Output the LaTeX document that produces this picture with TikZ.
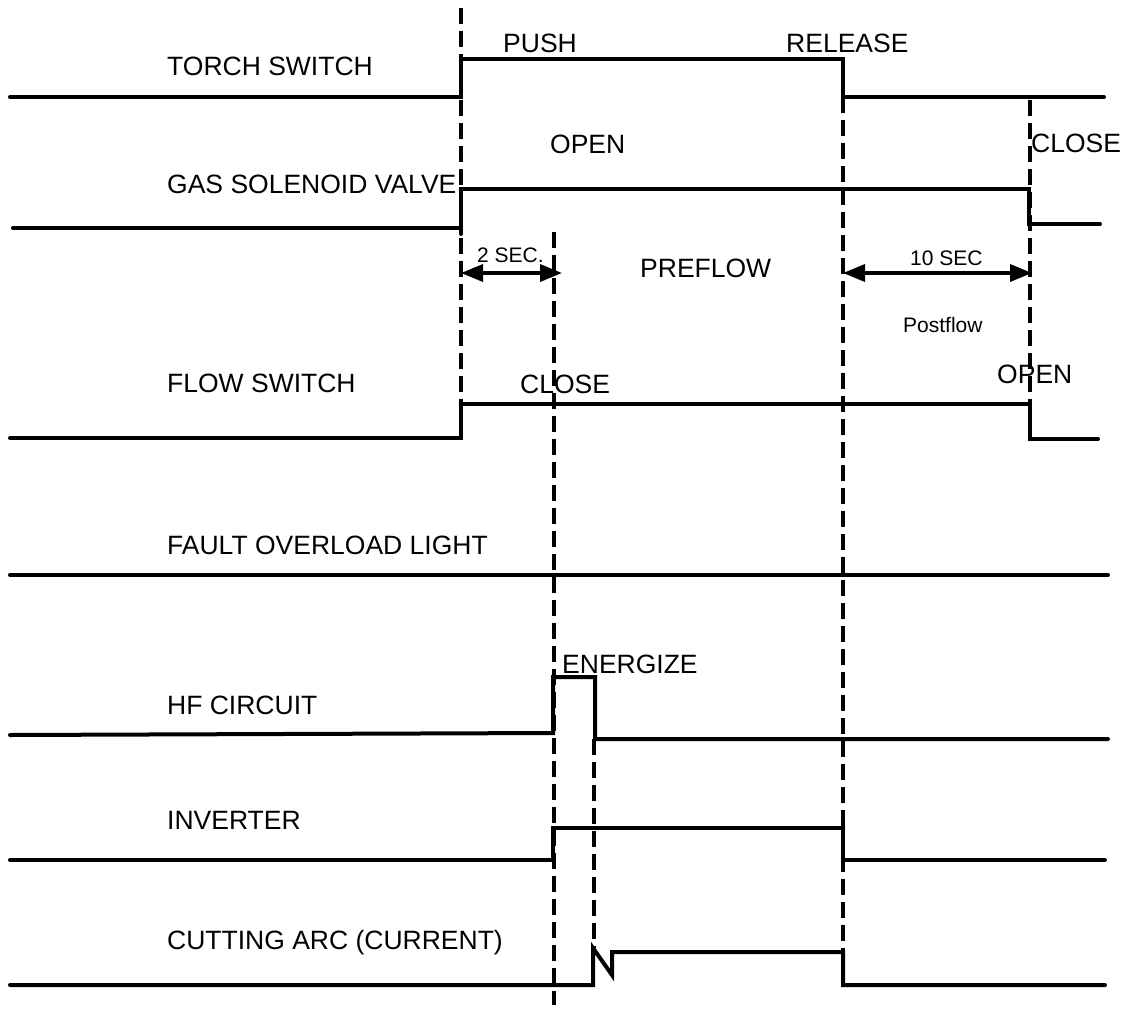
\documentclass[tikz,border=0pt]{standalone}
\usepackage{fontspec}
\setmainfont{Liberation Sans}
\usetikzlibrary{arrows.meta}
\begin{document}
\begin{tikzpicture}[x=1pt,y=-1pt,
  sig/.style={line width=4pt,line join=miter,line cap=round},
  guide/.style={line width=4.2pt,dash pattern=on 16pt off 7pt},
  lbl/.style={anchor=base west,inner sep=0pt,font=\fontsize{26.5}{30}\selectfont},
  small/.style={anchor=base west,inner sep=0pt,font=\fontsize{21}{25}\selectfont},
  dim/.style={line width=3.5pt,{Triangle[length=22pt,width=17pt]}-{Triangle[length=22pt,width=17pt]}}]
\useasboundingbox (0,0) rectangle (1122,1010);
% guide lines
\coordinate (g1t) at (461,8);    \coordinate (g1b) at (461,404);
\coordinate (g2t) at (554,232);  \coordinate (g2b) at (554,1005);
\coordinate (g3t) at (594,739);  \coordinate (g3b) at (594,948);
\coordinate (g4t) at (843,97);   \coordinate (g4b) at (843,985);
\coordinate (g5t) at (1030,100); \coordinate (g5b) at (1030,404);
\draw[guide] (g1t) -- (g1b);
\draw[guide] (g2t) -- (g2b);
\draw[guide] (g3t) -- (g3b);
\draw[guide] (g4t) -- (g4b);
\draw[guide] (g5t) -- (g5b);
% signals
\draw[sig] (10,97) -- (461,97) -- (461,59) -- (843,59) -- (843,97) -- (1104,97);
\draw[sig] (13,228) -- (461,228) -- (461,189) -- (1029,189) -- (1029,224) -- (1100,224);
\draw[sig] (461,234) -- (461,228);
\draw[sig] (10,438) -- (461,438) -- (461,404) -- (1030,404) -- (1030,439) -- (1098,439);
\draw[sig] (10,575) -- (1108,575);
\draw[sig] (10,735) -- (553,733) -- (553,677) -- (595,677) -- (595,739) -- (1108,739);
\draw[sig] (10,860) -- (553,860) -- (553,828) -- (843,828) -- (843,860) -- (1105,860);
\draw[sig] (10,985) -- (593,985) -- (593,948) -- (612,975) -- (612,952) -- (843,952) -- (843,985) -- (1105,985);
% dimension arrows
\coordinate (a1) at (461,273); \coordinate (a2) at (562,273);
\coordinate (b1) at (843,273); \coordinate (b2) at (1032,273);
\draw[dim] (a1) -- (a2);
\draw[dim] (b1) -- (b2);
% labels
\node[lbl] (t1) at (167,75) {TORCH SWITCH};
\node[lbl] (t2) at (167,193) {GAS SOLENOID VALVE};
\node[lbl] (t3) at (167,392) {FLOW SWITCH};
\node[lbl] (t4) at (167,554) {FAULT OVERLOAD LIGHT};
\node[lbl] (t5) at (167,714) {HF CIRCUIT};
\node[lbl] (t6) at (167,829) {INVERTER};
\node[lbl] (t7) at (167,949) {CUTTING ARC (CURRENT)};
\node[lbl] (push) at (503,52) {PUSH};
\node[lbl] (rel) at (786,52) {RELEASE};
\node[lbl] (open1) at (550,153) {OPEN};
\node[lbl] (close1) at (1031,152) {CLOSE};
\node[small] (s2) at (477,262) {2 SEC.};
\node[lbl] (pre) at (640,277) {PREFLOW};
\node[small] (s10) at (910,265) {10 SEC};
\node[small] (post) at (903,332) {Postflow};
\node[lbl] (close2) at (520,393) {CLOSE};
\node[lbl] (open2) at (997,383) {OPEN};
\node[lbl] (en) at (562,673) {ENERGIZE};
\end{tikzpicture}
\end{document}
